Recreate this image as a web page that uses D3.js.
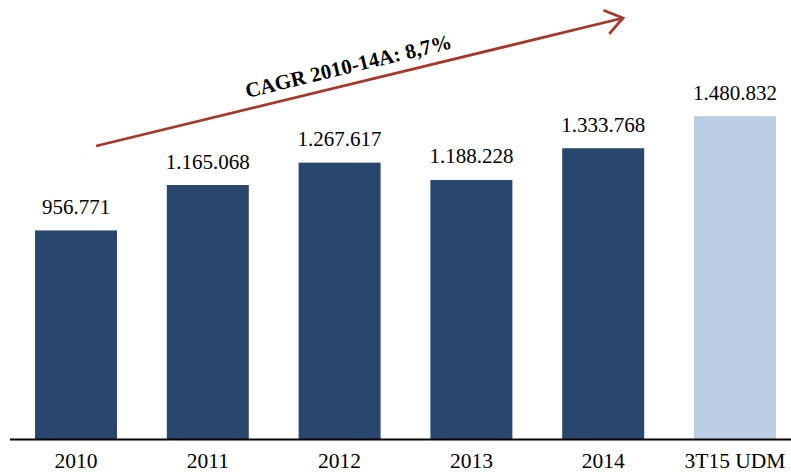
<!DOCTYPE html>
<html>
<head>
<meta charset="utf-8">
<script src="https://cdn.jsdelivr.net/npm/d3@7"></script>
<style>
    body { margin: 0; background: #ffffff; }
    text { font-family: "Liberation Serif", "Times New Roman", serif; fill: #000; }
</style>
</head>
<body>
<div id="chart"></div>
<script>
// data
var categories = ["2010", "2011", "2012", "2013", "2014", "3T15 UDM"];
var values = [956771, 1165068, 1267617, 1188228, 1333768, 1480832];
var valueLabels = ["956.771", "1.165.068", "1.267.617", "1.188.228", "1.333.768", "1.480.832"];
var cagrLabel = "CAGR 2010-14A: 8,7%";

var width = 791;
var height = 472;
var baseY = 439;

var svg = d3.select("#chart").append("svg")
    .attr("width", width)
    .attr("height", height);

// scales
var xScale = d3.scaleBand()
    .domain(categories)
    .range([10, 801])
    .paddingInner(0.378)
    .paddingOuter(0.19);

var yScale = d3.scaleLinear()
    .domain([0, 2000000])
    .range([baseY, 3]);

// bars
svg.selectAll(".bar")
    .data(values)
    .enter().append("rect")
    .attr("class", "bar")
    .attr("x", function (d, i) { return xScale(categories[i]); })
    .attr("y", function (d) { return yScale(d); })
    .attr("width", xScale.bandwidth())
    .attr("height", function (d) { return baseY - yScale(d); })
    .attr("fill", function (d, i) { return i === 5 ? "#bacde5" : "#29466e"; });

// value labels
svg.selectAll(".val")
    .data(values)
    .enter().append("text")
    .attr("class", "val")
    .attr("x", function (d, i) { return xScale(categories[i]) + xScale.bandwidth() / 2; })
    .attr("y", function (d) { return yScale(d) - 16.5; })
    .attr("text-anchor", "middle")
    .style("font-size", "21px")
    .text(function (d, i) { return valueLabels[i]; });

// x axis
var xAxis = svg.append("g")
    .attr("transform", "translate(0," + baseY + ")")
    .call(d3.axisBottom(xScale).tickSize(0).tickPadding(14));
xAxis.select(".domain").remove();
xAxis.append("line")
    .attr("x1", 10).attr("x2", width)
    .attr("y1", 0.5).attr("y2", 0.5)
    .attr("stroke", "#000")
    .attr("stroke-width", 2.2);
xAxis.selectAll(".tick text")
    .attr("font-family", null)
    .style("font-size", "21.5px")
    .style("fill", "#000");

// CAGR arrow
var x0 = 96, y0 = 146, x1 = 623, y1 = 18;
var ang = Math.atan2(y1 - y0, x1 - x0);
var arrowColor = "#a5382b";

svg.append("line")
    .attr("x1", x0).attr("y1", y0)
    .attr("x2", x1 - 2).attr("y2", y1 + 0.5)
    .attr("stroke", arrowColor)
    .attr("stroke-width", 2.8);

var headLen = 21, headAng = 0.62;
svg.append("path")
    .attr("d", "M" + (x1 - headLen * Math.cos(ang - headAng)) + "," + (y1 - headLen * Math.sin(ang - headAng)) +
        "L" + x1 + "," + y1 +
        "L" + (x1 - headLen * Math.cos(ang + headAng)) + "," + (y1 - headLen * Math.sin(ang + headAng)))
    .attr("fill", "none")
    .attr("stroke", arrowColor)
    .attr("stroke-width", 2.8);

svg.append("text")
    .attr("transform", "translate(350,73) rotate(" + (ang * 180 / Math.PI) + ")")
    .attr("text-anchor", "middle")
    .style("font-size", "21px")
    .style("font-weight", "bold")
    .text(cagrLabel);
</script>
</body>
</html>
